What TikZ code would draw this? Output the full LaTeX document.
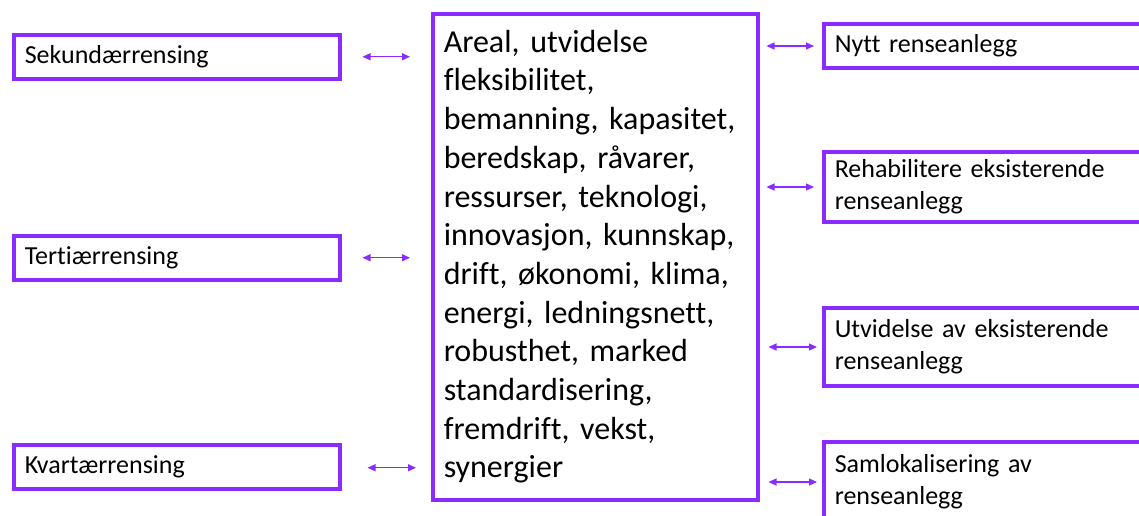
\documentclass[tikz,border=0pt]{standalone}
\usepackage{fontspec}
\setmainfont{Carlito}[Ligatures=NoCommon]
\usetikzlibrary{arrows.meta}
\definecolor{lilla}{RGB}{138,43,255}
\tikzset{
  box/.style={draw=lilla, line width=3.5pt, rectangle, minimum height=44pt,
    inner xsep=11pt, text width=304pt, align=left,
    font=\fontsize{26}{32}\selectfont},
  wide/.style={box, text width=321pt},
  hub/.style={box, minimum height=486pt, inner xsep=11pt, text width=303pt,
    font=\fontsize{32}{38.7}\selectfont},
  link/.style={{Triangle[length=8pt,width=7pt]}-{Triangle[length=8pt,width=7pt]},
    draw=lilla, line width=1.2pt}
}
\begin{document}
\begin{tikzpicture}[x=1pt,y=-1pt]
\useasboundingbox (0,0) rectangle (1139,515);
\clip (0,0) rectangle (1139,515);
% venstre side
\node[box, anchor=north west] (sek) at (12,33) {Sekundærrensing};
\node[box, anchor=north west] (ter) at (12,234) {Tertiærrensing};
\node[box, anchor=north west] (kva) at (12,443) {Kvartærrensing};
% midten
\node[hub, anchor=north west] (mid) at (431,12) {Areal, utvidelse\\ fleksibilitet,\\
  bemanning, kapasitet,\\ beredskap, råvarer,\\ ressurser, teknologi,\\
  innovasjon, kunnskap,\\ drift, økonomi, klima,\\ energi, ledningsnett,\\
  robusthet, marked\\ standardisering,\\ fremdrift, vekst,\\ synergier};
% høyre side
\node[wide, anchor=west] (nytt) at (822,46) {Nytt renseanlegg};
\node[wide, anchor=west, minimum height=70pt] (rehab) at (822,187) {Rehabilitere eksisterende\\ renseanlegg};
\node[wide, anchor=west, minimum height=78pt] (utv) at (822,347) {Utvidelse av eksisterende\\ renseanlegg};
\node[wide, anchor=west, minimum height=80pt] (sam) at (822,482) {Samlokalisering av\\ renseanlegg};
% piler
\coordinate (l1) at (mid.west |- sek.east);
\coordinate (l2) at (mid.west |- ter.east);
\coordinate (l3) at (mid.west |- kva.east);
\draw[link, shorten <=21pt, shorten >=21pt] (sek.east) -- (l1);
\draw[link, shorten <=21pt, shorten >=21pt] (ter.east) -- (l2);
\draw[link, shorten <=26pt, shorten >=15pt] ([yshift=-1pt]kva.east) -- ([yshift=-1pt]l3);
\coordinate (r1) at (mid.east |- nytt.west);
\coordinate (r2) at (mid.east |- rehab.west);
\coordinate (r3) at (mid.east |- utv.west);
\coordinate (r4) at (mid.east |- sam.west);
\draw[link, shorten <=7pt, shorten >=8pt] (r1) -- (nytt.west);
\draw[link, shorten <=7pt, shorten >=8pt] (r2) -- (rehab.west);
\draw[link, shorten <=9pt, shorten >=5pt] (r3) -- (utv.west);
\draw[link, shorten <=9pt, shorten >=5pt] (r4) -- (sam.west);
\end{tikzpicture}
\end{document}
